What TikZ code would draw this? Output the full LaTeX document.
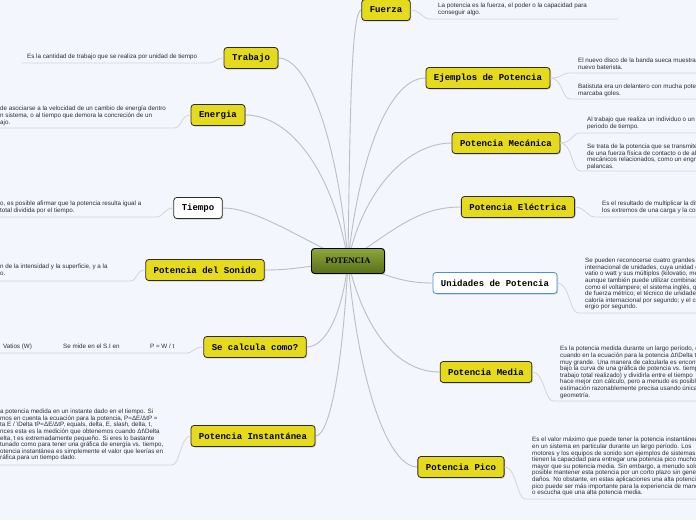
\documentclass[tikz,border=0pt]{standalone}
\usepackage{fontspec}
\setmainfont{Liberation Sans}
\setmonofont{Liberation Mono}
\newfontfamily\rootfont{Liberation Serif}
\usetikzlibrary{shadows,backgrounds}

\begin{document}
\begin{tikzpicture}[x=1pt, y=-1pt,
    branch/.style={draw=borderColour, fill=fillColourA, rounded corners=3pt, line width=0.8pt,
        minimum height=21pt, inner xsep=8pt, font=\ttfamily\bfseries\fontsize{9}{9}\selectfont,
        drop shadow={shadow xshift=1pt, shadow yshift=-1pt, opacity=0.35}},
    unitbox/.style={branch, fill=white, draw=borderColourB},
    root/.style={draw=black, top color=rootTop, bottom color=rootBottom, rounded corners=3pt,
        line width=0.9pt, minimum width=73pt, minimum height=25pt,
        font=\rootfont\bfseries\fontsize{8.5}{8.5}\selectfont,
        drop shadow={shadow xshift=1pt, shadow yshift=-1pt, opacity=0.35}},
    note/.style={anchor=north west, inner sep=0pt, align=left, text=noteText,
        font=\fontsize{6.25}{6.6}\selectfont},
    link/.style={draw=linkColour, line width=0.9pt},
    noteline/.style={draw=noteLine, line width=0.8pt}]

    \definecolor{bgColour}{HTML}{F3F6FD}
    \definecolor{borderColour}{HTML}{2B2B2B}
    \definecolor{borderColourB}{HTML}{4A90E2}
    \definecolor{fillColourA}{HTML}{E6DA1C}
    \definecolor{rootTop}{HTML}{8DA73C}
    \definecolor{rootBottom}{HTML}{586F17}
    \definecolor{linkColour}{HTML}{BDBDC6}
    \definecolor{noteLine}{HTML}{D2D4DC}
    \definecolor{noteText}{HTML}{2E2E2E}

    % Canvas
    \useasboundingbox (0,0) rectangle (696,520);
    \clip (0,0) rectangle (696,520);

    % Central topic
    \node[root] (potencia) at (348,261) {POTENCIA};

    % Branches
    \node[branch] (fuerza) at (386,10) {Fuerza};
    \node[branch] (trabajo) at (251,58) {Trabajo};
    \node[branch] (ejemplos) at (488,78) {Ejemplos de Potencia};
    \node[branch] (energia) at (218,115) {Energia};
    \node[branch] (mecanica) at (506,143) {Potencia Mecánica};
    \node[unitbox, draw=borderColour] (tiempo) at (198,208) {Tiempo};
    \node[branch] (electrica) at (518,207) {Potencia Eléctrica};
    \node[branch] (sonido) at (205,270) {Potencia del Sonido};
    \node[unitbox] (unidades) at (495,283) {Unidades de Potencia};
    \node[branch] (calcula) at (255,347) {Se calcula como?};
    \node[branch] (media) at (486,372) {Potencia Media};
    \node[branch] (instantanea) at (253,436) {Potencia Instantánea};
    \node[branch] (pico) at (461,467) {Potencia Pico};

    % Links from the central topic
    \begin{pgfonlayer}{background}
    \fill[bgColour] (0,0) rectangle (696,520);
    \draw[link] (potencia.center) .. controls +(2,-150) and +(-10,0) .. (fuerza.west);
    \draw[link] (potencia.center) .. controls +(-10,-120) and +(30,0) .. (trabajo.east);
    \draw[link] (potencia.center) .. controls +(12,-110) and +(-35,0) .. (ejemplos.west);
    \draw[link] (potencia.center) .. controls +(-15,-90) and +(45,0) .. (energia.east);
    \draw[link] (potencia.center) .. controls +(15,-70) and +(-45,0) .. (mecanica.west);
    \draw[link] (potencia.center) .. controls +(-60,-30) and +(30,0) .. (tiempo.east);
    \draw[link] (potencia.center) .. controls +(50,-35) and +(-40,0) .. (electrica.west);
    \draw[link] (potencia.center) .. controls +(-40,5) and +(30,0) .. (sonido.east);
    \draw[link] (potencia.center) .. controls +(40,15) and +(-30,0) .. (unidades.west);
    \draw[link] (potencia.center) .. controls +(-5,50) and +(20,0) .. (calcula.east);
    \draw[link] (potencia.center) .. controls +(15,65) and +(-45,0) .. (media.west);
    \draw[link] (potencia.center) .. controls +(-5,100) and +(15,0) .. (instantanea.east);
    \draw[link] (potencia.center) .. controls +(10,120) and +(-30,0) .. (pico.west);
    \end{pgfonlayer}

    % Notes on the right
    \node[note] (nFuerza) at (438,3) {La potencia es la fuerza, el poder o la capacidad para\\conseguir algo.};
    \node[note] (nEjemploA) at (578,58) {El nuevo disco de la banda sueca muestra\\nuevo baterista.};
    \node[note] (nEjemploB) at (578,84) {Batistuta era un delantero con mucha potencia\\marcaba goles.};
    \node[note] (nMecanicaA) at (587,117) {Al trabajo que realiza un individuo o un\\periodo de tiempo.};
    \node[note] (nMecanicaB) at (587,144) {Se trata de la potencia que se transmite\\de una fuerza física de contacto o de alguno\\mecánicos relacionados, como un engranaje\\palancas.};
    \node[note] (nElectrica) at (602,201) {Es el resultado de multiplicar la diferencia\\los extremos de una carga y la corriente};
    \node[note] (nUnidades) at (585,258) {Se pueden reconocerse cuatro grandes sistemas\\internacional de unidades, cuya unidad es\\vatio o watt y sus múltiplos (kilovatio, megavatio\\aunque también puede utilizar combinaciones\\como el voltampere; el sistema inglés, que\\de fuerza métrico; el técnico de unidades\\caloría internacional por segundo; y el cegesimal\\ergio por segundo.};
    \node[note] (nMedia) at (560,346) {Es la potencia medida durante un largo período, es\\cuando en la ecuación para la potencia Δt\textbackslash Delta t\\muy grande. Una manera de calcularla es encontrar\\bajo la curva de una gráfica de potencia vs. tiempo\\trabajo total realizado) y dividirla entre el tiempo\\hace mejor con cálculo, pero a menudo es posible\\estimación razonablemente precisa usando únicamente\\geometría.};
    \node[note] (nPico) at (532,437) {Es el valor máximo que puede tener la potencia instantánea\\en un sistema en particular durante un largo período. Los\\motores y los equipos de sonido son ejemplos de sistemas que\\tienen la capacidad para entregar una potencia pico mucho\\mayor que su potencia media. Sin embargo, a menudo solo es\\posible mantener esta potencia por un corto plazo sin generar\\daños. No obstante, en estas aplicaciones una alta potencia\\pico puede ser más importante para la experiencia de manejo\\o escucha que una alta potencia media.};

    % Notes on the left
    \node[note] (nTrabajo) at (27,54) {Es la cantidad de trabajo que se realiza por unidad de tiempo};
    \node[note] (nEnergia) at (0,106) {de asociarse a la velocidad de un cambio de energía dentro\\n sistema, o al tiempo que demora la concreción de un\\ajo.};
    \node[note] (nTiempo) at (0,201) {o, es posible afirmar que la potencia resulta igual a\\total dividida por el tiempo.};
    \node[note] (nSonido) at (0,264) {n de la intensidad y la superficie, y a la\\o.};
    \node[note] (nVatios) at (3,344) {Vatios (W)};
    \node[note] (nMide) at (63,344) {Se mide en el S.I en};
    \node[note] (nFormula) at (150,344) {P = W / t};
    \node[note] (nInstantanea) at (0,409) {a potencia medida en un instante dado en el tiempo. Si\\mos en cuenta la ecuación para la potencia, P=ΔE/ΔtP =\\ta E / \textbackslash Delta tP=ΔE/ΔtP, equals, delta, E, slash, delta, t,\\nces esta es la medición que obtenemos cuando Δt\textbackslash Delta\\elta, t es extremadamente pequeño. Si eres lo bastante\\tunado como para tener una gráfica de energía vs. tiempo,\\otencia instantánea es simplemente el valor que leerías en\\ráfica para un tiempo dado.};

    % Note underlines
    \coordinate (uFuerza) at (430,19);
    \coordinate (uEjemploA) at (570,73);
    \coordinate (uEjemploB) at (570,99);
    \coordinate (uMecanicaA) at (580,133);
    \coordinate (uMecanicaB) at (580,171);
    \coordinate (uElectrica) at (595,217);
    \coordinate (uUnidades) at (578,313);
    \coordinate (uMedia) at (553,401);
    \coordinate (uPico) at (525,499);
    \coordinate (uTrabajo) at (208,63);
    \coordinate (uEnergia) at (174,128);
    \coordinate (uTiempo) at (156,217);
    \coordinate (uSonido) at (130,281);
    \coordinate (uCalcula) at (186,353);
    \coordinate (uInstantanea) at (172,465);

    \draw[noteline] (fuerza.east) .. controls +(10,0) and +(-8,0) .. (uFuerza) -- (618,19);
    \draw[noteline] (ejemplos.east) .. controls +(12,0) and +(-8,0) .. (uEjemploA) -- (696,73);
    \draw[noteline] (ejemplos.east) .. controls +(12,0) and +(-8,0) .. (uEjemploB) -- (696,99);
    \draw[noteline] (mecanica.east) .. controls +(12,0) and +(-8,0) .. (uMecanicaA) -- (696,133);
    \draw[noteline] (mecanica.east) .. controls +(12,0) and +(-8,0) .. (uMecanicaB) -- (696,171);
    \draw[noteline] (electrica.east) .. controls +(10,0) and +(-8,0) .. (uElectrica) -- (696,217);
    \draw[noteline] (unidades.east) .. controls +(12,0) and +(-8,0) .. (uUnidades) -- (696,313);
    \draw[noteline] (media.east) .. controls +(12,0) and +(-8,0) .. (uMedia) -- (696,401);
    \draw[noteline] (pico.east) .. controls +(12,0) and +(-8,0) .. (uPico) -- (696,499);
    \draw[noteline] (trabajo.west) .. controls +(-8,0) and +(8,0) .. (uTrabajo) -- (22,63);
    \draw[noteline] (energia.west) .. controls +(-10,0) and +(8,0) .. (uEnergia) -- (0,128);
    \draw[noteline] (tiempo.west) .. controls +(-10,0) and +(8,0) .. (uTiempo) -- (0,217);
    \draw[noteline] (sonido.west) .. controls +(-10,0) and +(8,0) .. (uSonido) -- (0,281);
    \draw[noteline] (calcula.west) .. controls +(-10,0) and +(8,0) .. (uCalcula) -- (0,353);
    \draw[noteline] (instantanea.west) .. controls +(-10,0) and +(8,0) .. (uInstantanea) -- (0,465);

\end{tikzpicture}
\end{document}
